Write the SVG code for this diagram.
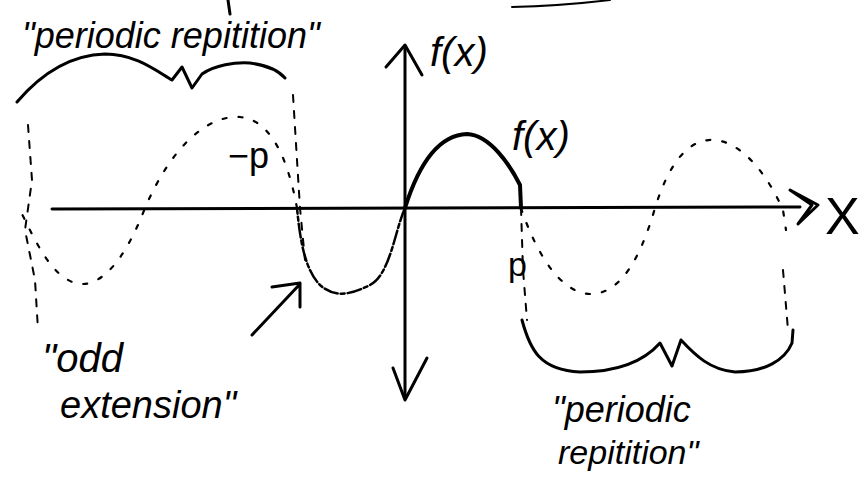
<svg xmlns="http://www.w3.org/2000/svg" width="864" height="477" viewBox="0 0 864 477">
<style>
.ink{fill:none;stroke:#000;stroke-linecap:round;stroke-linejoin:round}
.axis{stroke-width:3}
.solid{stroke-width:4}
.brace{stroke-width:3}
.dash{stroke-width:2;stroke-dasharray:7 9}
.dots{stroke-width:2.2;stroke-dasharray:4 12}
.t{font-family:"Liberation Sans","DejaVu Sans",sans-serif;fill:#000}
</style>
<rect width="864" height="477" fill="#fff"/>
<g id="fragments">
<path class="ink axis" d="M228 0 L230 14"/>
<path class="ink" stroke-width="2" d="M512 7 Q560 6 610 0"/>
</g>
<g id="connectors">
<path id="x-axis" class="ink axis" d="M52 209 L800 207"/>
<path class="ink axis" d="M790 190 L818 205 L798 224 L812 205 Z"/>
<path id="y-axis" class="ink axis" d="M405 46 L405 398"/>
<path class="ink axis" d="M386 67 L405 45 L422 75"/>
<path class="ink axis" d="M393 368 L405 400 L427 358"/>
<path id="pointer" class="ink brace" d="M252 335 L300 284 M272 287 L300 283 L300 307"/>
</g>
<g id="curves">
<path id="fx" class="ink solid" d="M405 208 C420 160 440 135 467 134 C490 135 510 165 520 185 L521 208"/>
<path id="odd-ext" class="ink" stroke-width="2.5" stroke-dasharray="14 3 4 3" d="M405 208 C395 230 390 275 370 285 C350 295 335 298 320 285 C305 270 300 240 297 208"/>
<path class="ink dots" d="M297 208 C290 170 275 120 240 117 C205 115 170 150 145 208 C125 260 100 290 75 283 C50 275 35 240 20 210"/>
<path class="ink dots" d="M521 208 C535 250 560 295 592 294 C620 293 640 260 655 208 C670 160 690 138 715 140 C745 143 770 180 783 210 L786 230"/>
<path class="ink dash" d="M28 125 L32 180 L25 230 L35 280 L38 330"/>
<path class="ink dash" d="M293 95 L297 160 L300 208 L305 260"/>
<path class="ink dash" d="M521 208 L523 270 L527 320"/>
<path class="ink dash" d="M783 270 L788 330"/>
</g>
<g id="brace-top">
<path class="ink brace" d="M17 102 C40 75 70 55 105 54 C135 54 155 70 172 80 L182 67 L192 88 L202 74 C215 65 235 62 250 63 C265 65 278 70 285 78"/>
</g>
<g id="brace-bottom">
<path class="ink brace" d="M522 320 C530 350 540 370 580 372 C620 372 645 360 660 343 L672 366 L681 340 C695 355 710 370 735 372 C765 372 785 360 792 343 L793 330"/>
</g>
<g id="labels">
<text class="t" x="22" y="48" font-size="36" font-style="italic">"periodic repitition"</text>
<text class="t" x="430" y="66" font-size="40" font-style="italic">f(x)</text>
<text class="t" x="512" y="150" font-size="40" font-style="italic">f(x)</text>
<text class="t" x="228" y="168" font-size="36">−p</text>
<text class="t" x="508" y="276" font-size="34">p</text>
<text class="t" x="825" y="234" font-size="52">X</text>
<text class="t" x="42" y="372" font-size="40" font-style="italic">"odd</text>
<text class="t" x="60" y="418" font-size="38" font-style="italic">extension"</text>
<text class="t" x="552" y="422" font-size="36" font-style="italic">"periodic</text>
<text class="t" x="558" y="464" font-size="34" font-style="italic">repitition"</text>
</g>
</svg>
